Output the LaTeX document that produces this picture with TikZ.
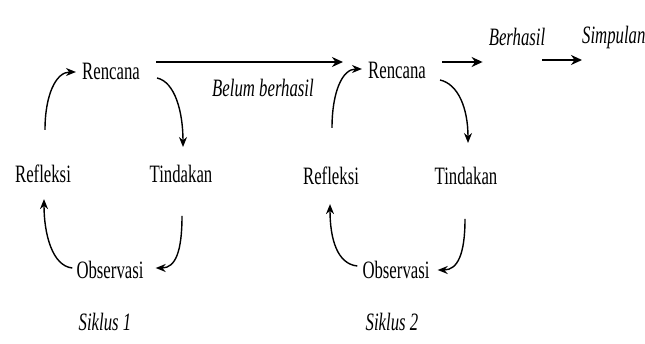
\documentclass[tikz,border=0pt]{standalone}
\usepackage{fontspec}
\setmainfont{Liberation Serif}[FakeStretch=0.67]
\usetikzlibrary{arrows.meta,calc}
\begin{document}
\begin{tikzpicture}[x=1pt,y=-1pt,
  lbl/.style={inner sep=0pt,font=\fontsize{25}{27}\selectfont},
  ilbl/.style={inner sep=0pt,font=\fontsize{25}{27}\selectfont\itshape},
  conn/.style={line width=1.4pt,-{Stealth[length=10pt,width=8pt]}},
  sconn/.style={line width=1.8pt,-{Stealth[length=11pt,width=10pt]}}]
\useasboundingbox (0,0) rectangle (645,344);
\fill[white] (0,0) rectangle (645,344);
% cycle 1
\node[lbl] (r1) at (111,71) {Rencana};
\node[lbl] (t1) at (181,174) {Tindakan};
\node[lbl] (f1) at (43,174) {Refleksi};
\node[lbl] (o1) at (110,270) {Observasi};
\node[ilbl] (s1) at (105,322) {Siklus 1};
% cycle 2
\node[lbl] (r2) at (397,70) {Rencana};
\node[lbl] (t2) at (466,176) {Tindakan};
\node[lbl] (f2) at (331,176) {Refleksi};
\node[lbl] (o2) at (396,270) {Observasi};
\node[ilbl] (s2) at (392,322) {Siklus 2};
% labels
\node[ilbl] (bb) at (263,88) {Belum berhasil};
\node[ilbl] (b) at (517,37) {Berhasil};
\node[ilbl,anchor=west] (sp) at (582,37) {Simpulan};
% straight arrows
\draw[sconn] ($(r1.east)+(16,-9)$) -- ($(r2.west)+(-25,-8)$);
\draw[sconn] ($(r2.east)+(16,-8)$) -- ($(b.west)+(-6,25)$);
\draw[sconn] ($(b.east)+(-3,23)$) -- ($(sp.west)+(0,23)$);
% cycle 1 curves
\draw[conn] ($(r1.east)+(17,7)$) .. controls +(18,4) and +(0,-35) .. ($(t1.north)+(2,-18)$);
\draw[conn] ($(t1.south)+(1,33)$) .. controls +(0,35) and +(20,0) .. ($(o1.east)+(12,-2)$);
\draw[conn] ($(o1.west)+(-4,-2)$) .. controls +(-20,-2) and +(0,35) .. ($(f1.south)+(1,16)$);
\draw[conn] ($(f1.north)+(2,-35)$) .. controls +(0,-35) and +(-20,0) .. ($(r1.west)+(-6,1)$);
% cycle 2 curves
\draw[conn] ($(r2.east)+(14,10)$) .. controls +(18,4) and +(0,-35) .. ($(t2.north)+(2,-24)$);
\draw[conn] ($(t2.south)+(-1,34)$) .. controls +(0,35) and +(20,0) .. ($(o2.east)+(8,0)$);
\draw[conn] ($(o2.west)+(-5,-4)$) .. controls +(-20,-2) and +(0,35) .. ($(f2.south)+(-1,19)$);
\draw[conn] ($(f2.north)+(1,-39)$) .. controls +(0,-35) and +(-20,0) .. ($(r2.west)+(-6,-1)$);
\end{tikzpicture}
\end{document}
